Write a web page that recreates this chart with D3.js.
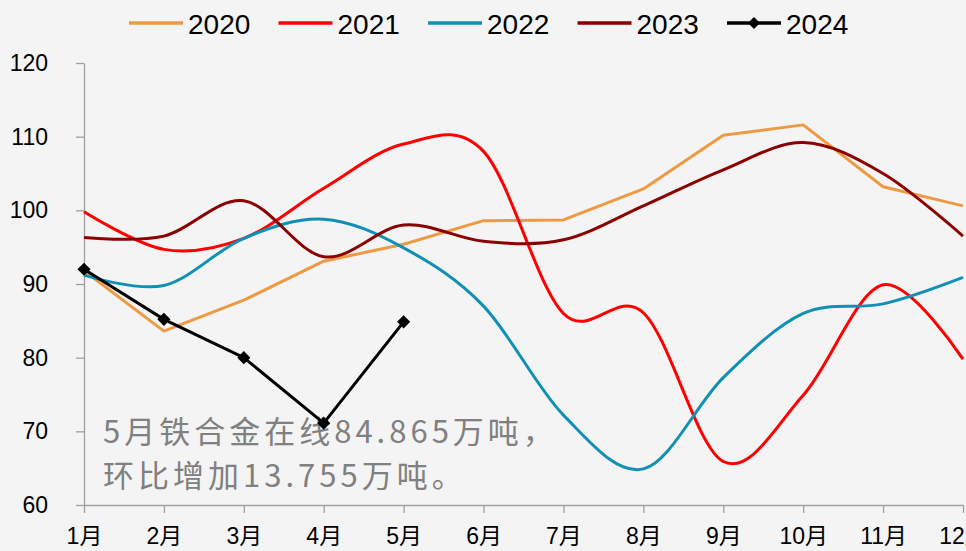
<!DOCTYPE html>
<html>
<head>
<meta charset="utf-8">
<script src="https://cdn.jsdelivr.net/npm/d3@7/dist/d3.min.js"></script>
<style>
  html, body { margin: 0; padding: 0; background: #f4f4f4; overflow: hidden; }
  svg { display: block; }
</style>
</head>
<body>
<div id="chart"></div>
<script>
var width = 966;
var height = 551;

// categories + series
const months = ["1月", "2月", "3月", "4月", "5月", "6月", "7月", "8月", "9月", "10月", "11月", "12月"];
const years = ["2020", "2021", "2022", "2023", "2024"];
const v2020 = [91.8, 83.6, 87.8, 93.1, 95.4, 98.6, 98.7, 102.9, 110.2, 111.6, 103.2, 100.6];
const v2021 = [99.8, 94.7, 96.2, 103.0, 109.0, 108.0, 86.0, 86.1, 65.9, 74.9, 89.9, 79.8];
const v2022 = [91.2, 89.8, 96.2, 98.8, 94.9, 87.0, 72.2, 64.9, 77.3, 86.0, 87.3, 90.9];
const v2023 = [96.3, 96.5, 101.3, 93.7, 98.0, 95.8, 96.0, 100.6, 105.5, 109.2, 105.0, 96.5];
const v2024 = [92.0, 85.2, 80.0, 71.11, 84.865];
const yTicks = [60, 70, 80, 90, 100, 110, 120];
const note = ["5月铁合金在线84.865万吨，", "环比增加13.755万吨。"];

const colors = ["#ee9a45", "#ff0000", "#1190b5", "#8b0000", "#000000"];
const smooth = [false, true, true, true, false];
const seriesValues = [v2020, v2021, v2022, v2023, v2024];

var margin = { top: 63, right: 3, bottom: 46, left: 84 };

var svg = d3.select("#chart").append("svg")
    .attr("width", width)
    .attr("height", height);

svg.append("rect")
    .attr("width", width)
    .attr("height", height)
    .attr("fill", "#f4f4f4");

// scales
var x = d3.scaleLinear()
    .domain([1, 12])
    .range([margin.left, width - margin.right]);

var y = d3.scaleLinear()
    .domain([60, 120])
    .range([height - margin.bottom, margin.top]);

var axisColor = "#a0a0a0";

// y axis
var yAxis = svg.append("g")
    .attr("transform", "translate(" + margin.left + ",0)")
    .call(d3.axisLeft(y).tickValues(yTicks).tickSize(8).tickSizeOuter(0).tickPadding(28));

// x axis
var xAxis = svg.append("g")
    .attr("transform", "translate(0," + (height - margin.bottom) + ")")
    .call(d3.axisBottom(x)
        .tickValues(d3.range(1, 13))
        .tickFormat(function (d) { return months[d - 1]; })
        .tickSize(8).tickSizeOuter(0).tickPadding(15));

[yAxis, xAxis].forEach(function (a) {
    a.selectAll("path, line").attr("stroke", axisColor).attr("stroke-width", 1.3);
    a.selectAll("text")
        .attr("fill", "#000")
        .style("font-family", "'Liberation Sans', 'Noto Sans CJK SC', sans-serif")
        .style("font-size", "23px");
});

// annotation text
svg.selectAll(".note")
    .data(note)
    .enter().append("text")
    .attr("class", "note")
    .attr("x", 103)
    .attr("y", function (d, i) { return 443 + i * 44; })
    .attr("fill", "#808080")
    .style("font-family", "'Noto Sans CJK SC', sans-serif")
    .style("font-size", "31px")
    .style("letter-spacing", "4px")
    .text(function (d) { return d; });

// lines
var linePlain = d3.line()
    .x(function (d, i) { return x(i + 1); })
    .y(function (d) { return y(d); });

var lineSmooth = d3.line()
    .x(function (d, i) { return x(i + 1); })
    .y(function (d) { return y(d); })
    .curve(d3.curveCatmullRom.alpha(0));

seriesValues.forEach(function (vals, k) {
    svg.append("path")
        .datum(vals)
        .attr("d", smooth[k] ? lineSmooth : linePlain)
        .attr("fill", "none")
        .attr("stroke", colors[k])
        .attr("stroke-width", 3)
        .attr("stroke-linejoin", "round");
});

// diamonds on 2024
var diamond = d3.symbol().type(d3.symbolDiamond2).size(110);
svg.selectAll(".mk")
    .data(v2024)
    .enter().append("path")
    .attr("class", "mk")
    .attr("d", diamond)
    .attr("transform", function (d, i) { return "translate(" + x(i + 1) + "," + y(d) + ")"; })
    .attr("fill", "#000");

// legend
var legend = svg.selectAll(".legend")
    .data(years)
    .enter().append("g")
    .attr("class", "legend")
    .attr("transform", function (d, i) { return "translate(" + (129 + i * 149.5) + ",23)"; });

legend.append("line")
    .attr("x1", 0).attr("x2", 54)
    .attr("stroke", function (d, i) { return colors[i]; })
    .attr("stroke-width", 3.5);

legend.filter(function (d, i) { return i === 4; })
    .append("path")
    .attr("d", d3.symbol().type(d3.symbolDiamond2).size(90))
    .attr("transform", "translate(27,0)")
    .attr("fill", "#000");

legend.append("text")
    .attr("x", 59)
    .attr("y", 11)
    .style("font-family", "'Liberation Sans', sans-serif")
    .style("font-size", "28px")
    .attr("fill", "#000")
    .text(function (d) { return d; });
</script>
</body>
</html>
